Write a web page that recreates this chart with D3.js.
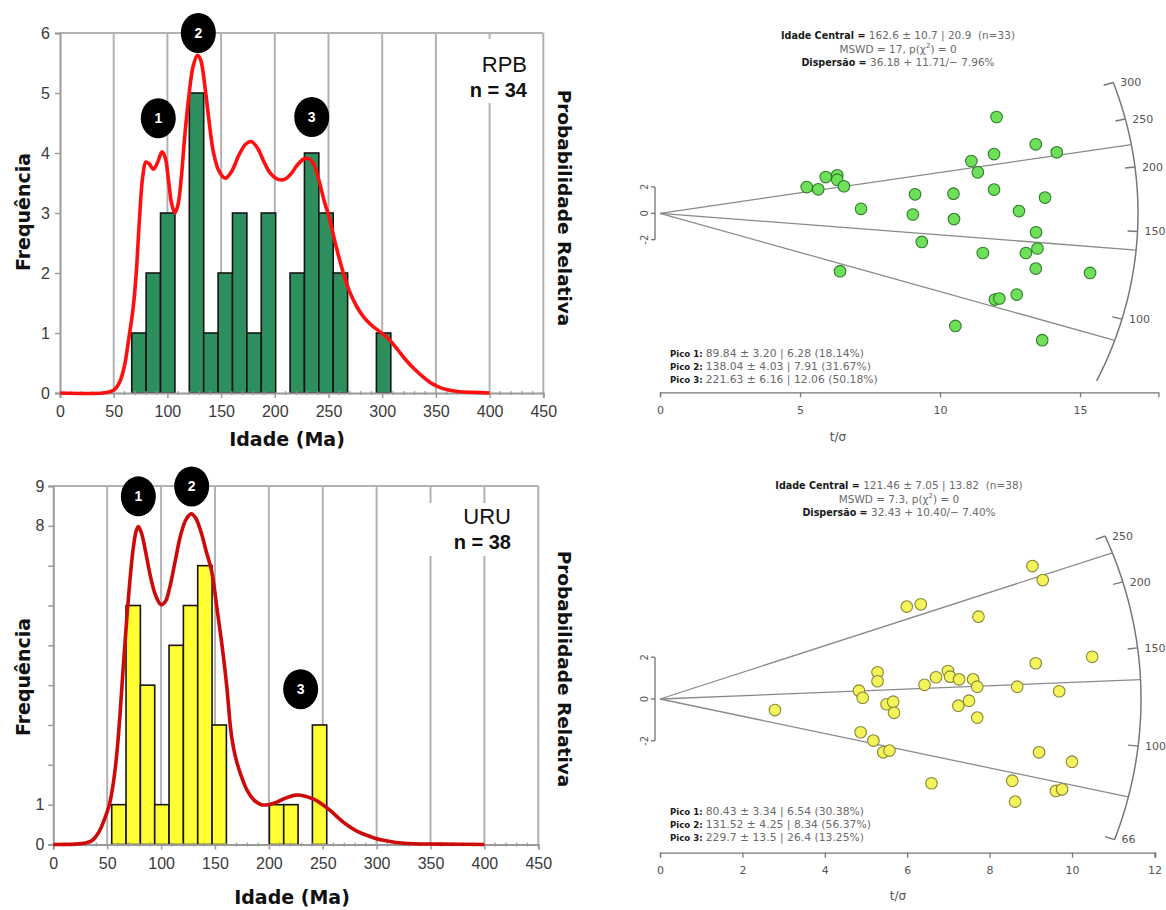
<!DOCTYPE html>
<html>
<head>
<meta charset="utf-8">
<script src="https://cdn.jsdelivr.net/npm/d3@7"></script>
<style>
  body { margin: 0; background: #fff; }
  text { white-space: pre; }
</style>
</head>
<body>
<svg id="fig" width="1166" height="910"></svg>
<script>
// ---------- histogram + probability density data ----------
const ageTicks = [0, 50, 100, 150, 200, 250, 300, 350, 400, 450];

// RPB sample: histogram bins (Ma) and counts
const rpbBinStart = 66.8;
const rpbBinWidth = 13.4;
const rpbCounts = [1, 2, 3, 0, 5, 1, 2, 3, 1, 3, 0, 2, 4, 3, 2, 0, 0, 1];
const rpbFreqTicks = [0, 1, 2, 3, 4, 5, 6];
const rpbFreqLabels = [0, 1, 2, 3, 4, 5, 6];
// relative probability curve, [age, value in frequency units]
const rpbCurve = [[0,0],[40,0],[48,0.03],[52,0.08],[56,0.2],[60,0.45],[64,0.9],[68,1.4],[71,2.0],[74,2.9],[77,3.6],[80,3.85],[83,3.82],[87,3.73],[91,3.85],[95,4.02],[98,3.92],[101,3.55],[104,3.15],[107,3.0],[110,3.15],[113,3.6],[116,4.25],[120,4.95],[124,5.45],[128,5.63],[131,5.55],[135,5.1],[139,4.5],[143,4.0],[148,3.7],[154,3.58],[160,3.7],[167,3.98],[173,4.15],[178,4.19],[184,4.08],[190,3.85],[196,3.66],[203,3.56],[209,3.56],[215,3.65],[221,3.8],[227,3.9],[231,3.91],[236,3.82],[241,3.55],[246,3.2],[251,2.9],[257,2.45],[263,2.05],[269,1.72],[276,1.45],[283,1.26],[290,1.13],[298,1.02],[306,0.9],[314,0.73],[322,0.55],[330,0.4],[338,0.27],[346,0.16],[354,0.09],[362,0.05],[372,0.02],[385,0.01],[400,0]];
// peak markers: [label, age, height]
const rpbPeaks = [["1", 91.5, 4.58], ["2", 128.8, 6.0], ["3", 234.4, 4.6]];

// URU sample
const uruBinStart = 54.2;
const uruBinWidth = 13.3;
const uruCounts = [1, 6, 4, 1, 5, 6, 7, 3, 0, 0, 0, 1, 1, 0, 3];
const uruFreqTicks = [0, 1, 2, 3, 4, 5, 6, 7, 8, 9];
const uruFreqLabels = [0, 1, 8, 9];
const uruCurve = [[0,0],[20,0.01],[30,0.04],[36,0.1],[42,0.3],[47,0.6],[52,1.0],[56,1.6],[59,2.3],[62,3.3],[65,4.5],[68,5.6],[71,6.6],[74,7.4],[77,7.88],[79,7.98],[82,7.8],[86,7.3],[90,6.75],[95,6.25],[100,6.02],[104,6.1],[108,6.45],[113,7.1],[118,7.75],[123,8.15],[128,8.3],[132,8.2],[137,7.85],[142,7.35],[147,6.85],[152,5.9],[157,4.9],[161,3.96],[165,2.8],[169,2.2],[174,1.75],[180,1.35],[186,1.12],[193,1.0],[200,1.0],[208,1.07],[216,1.17],[225,1.24],[233,1.22],[242,1.13],[250,1.0],[258,0.83],[266,0.63],[272,0.5],[280,0.36],[287,0.27],[294,0.2],[305,0.11],[318,0.05],[335,0.02],[360,0.01],[400,0]];
const uruPeaks = [["1", 78.9, 8.74], ["2", 128.4, 8.99], ["3", 229.5, 3.9]];

// ---------- radial plot data: [t/sigma, standardised estimate] ----------
const rpbRadial = [[12.02,7.30],[13.42,5.23],[14.17,4.62],[11.93,4.49],[11.12,3.96],[11.35,3.11],[6.33,2.88],[5.92,2.75],[6.33,2.55],[5.24,1.99],[5.65,1.82],[6.57,2.05],[9.11,1.44],[10.48,1.49],[11.93,1.80],[13.75,1.19],[7.18,0.34],[9.03,-0.09],[10.50,-0.44],[12.82,0.17],[13.43,-1.44],[9.35,-2.17],[11.53,-3.01],[13.07,-3.01],[13.48,-2.67],[6.43,-4.39],[13.42,-4.19],[15.36,-4.52],[11.96,-6.54],[12.12,-6.46],[12.74,-6.16],[10.55,-8.54],[13.65,-9.62]];
const rpbCentral = 162.6;
const rpbPeakAges = [89.84, 138.04, 221.63];
const rpbArcTicks = [100, 150, 200, 250, 300];
const rpbTTicks = [0, 5, 10, 15];
const rpbHeader = [["Idade Central = ", "162.6 ± 10.7 | 20.9  (n=33)"], ["", "MSWD = 17, p(χ"], ["Dispersão = ", "36.18 + 11.71/− 7.96%"]];
const rpbPicos = [["Pico 1: ", "89.84 ± 3.20 | 6.28 (18.14%)"], ["Pico 2: ", "138.04 ± 4.03 | 7.91 (31.67%)"], ["Pico 3: ", "221.63 ± 6.16 | 12.06 (50.18%)"]];

const uruRadial = [[9.04,6.36],[9.29,5.69],[5.99,4.42],[6.33,4.53],[7.73,3.94],[10.49,2.02],[9.12,1.71],[5.28,1.28],[5.28,0.85],[6.99,1.34],[6.70,1.04],[7.04,1.07],[7.26,0.94],[7.60,0.94],[6.42,0.68],[7.70,0.59],[8.67,0.59],[9.69,0.37],[4.83,0.40],[4.92,0.06],[2.79,-0.53],[5.50,-0.25],[5.66,-0.13],[5.68,-0.66],[7.24,-0.32],[7.50,-0.08],[7.70,-0.89],[4.87,-1.59],[5.18,-1.99],[5.42,-2.55],[5.57,-2.47],[9.20,-2.55],[10.00,-3.00],[6.59,-4.03],[8.55,-3.91],[8.62,-4.91],[9.61,-4.40],[9.76,-4.32]];
const uruCentral = 121.46;
const uruPeakAges = [80.43, 131.52, 229.7];
const uruArcTicks = [66, 100, 150, 200, 250];
const uruTTicks = [0, 2, 4, 6, 8, 10, 12];
const uruHeader = [["Idade Central = ", "121.46 ± 7.05 | 13.82  (n=38)"], ["", "MSWD = 7.3, p(χ"], ["Dispersão = ", "32.43 + 10.40/− 7.40%"]];
const uruPicos = [["Pico 1: ", "80.43 ± 3.34 | 6.54 (30.38%)"], ["Pico 2: ", "131.52 ± 4.25 | 8.34 (56.37%)"], ["Pico 3: ", "229.7 ± 13.5 | 26.4 (13.25%)"]];

const svg = d3.select("#fig");
const GRID = "#b2b2b2";
const TITLE_FONT = "DejaVu Sans, Verdana, sans-serif";
const TICK_FONT = "Liberation Sans, Arial, sans-serif";

// ---------- histogram panel ----------
function histogram(o) {
  const g = svg.append("g");
  const x = d3.scaleLinear().domain([0, 450]).range([o.x0, o.x1]);
  const y = d3.scaleLinear().domain([0, o.yMax]).range([o.y0, o.y1]);

  // vertical gridlines
  g.append("g").selectAll("line").data(ageTicks.slice(1, -1)).join("line")
    .attr("x1", d => x(d)).attr("x2", d => x(d))
    .attr("y1", y(0)).attr("y2", y(o.yMax))
    .attr("stroke", GRID).attr("stroke-width", 2);
  // frame: top and right
  g.append("line").attr("x1", x(0)).attr("x2", x(450)).attr("y1", y(o.yMax)).attr("y2", y(o.yMax))
    .attr("stroke", GRID).attr("stroke-width", 2);
  g.append("line").attr("x1", x(450)).attr("x2", x(450)).attr("y1", y(0)).attr("y2", y(o.yMax))
    .attr("stroke", GRID).attr("stroke-width", 2);

  // sample label box
  g.append("rect").attr("x", o.box[0]).attr("y", o.box[1]).attr("width", o.box[2]).attr("height", o.box[3])
    .attr("fill", "#fff");
  g.append("text").attr("x", o.labelX).attr("y", o.labelY).attr("text-anchor", "end")
    .attr("font-family", TICK_FONT).attr("font-size", 22).attr("fill", "#111").text(o.name);
  g.append("text").attr("x", o.labelX).attr("y", o.labelY + 25).attr("text-anchor", "end")
    .attr("font-family", TICK_FONT).attr("font-size", 20).attr("font-weight", "bold")
    .attr("fill", "#111").text(o.nText);

  // bars
  const bins = o.counts.map((c, i) => ({ x0: o.binStart + i * o.binWidth, x1: o.binStart + (i + 1) * o.binWidth, c }))
    .filter(b => b.c > 0);
  g.append("g").selectAll("rect").data(bins).join("rect")
    .attr("x", d => x(d.x0)).attr("width", d => x(d.x1) - x(d.x0))
    .attr("y", d => y(d.c)).attr("height", d => y(0) - y(d.c))
    .attr("fill", o.barFill).attr("stroke", "#151515").attr("stroke-width", 1.6);

  // axes
  const xa = g.append("g").attr("transform", `translate(0,${y(0)})`)
    .call(d3.axisBottom(x).tickValues(ageTicks).tickSize(5).tickPadding(8).tickFormat(d3.format("d")));
  xa.select(".domain").attr("stroke", "#9a9a9a").attr("stroke-width", 2);
  xa.selectAll(".tick line").attr("stroke", "#9a9a9a").attr("stroke-width", 1.5);
  xa.selectAll(".tick text").attr("font-family", TICK_FONT).attr("font-size", 16).attr("fill", "#3a3a3a");
  // minor ticks every 10 Ma
  g.append("g").selectAll("line").data(d3.range(10, 450, 10).filter(v => v % 50 !== 0)).join("line")
    .attr("x1", d => x(d)).attr("x2", d => x(d)).attr("y1", y(0) - 2).attr("y2", y(0) + 2)
    .attr("stroke", "#9a9a9a").attr("stroke-width", 1.2);

  const ya = g.append("g").attr("transform", `translate(${x(0)},0)`)
    .call(d3.axisLeft(y).tickValues(o.yTicks).tickSize(5).tickPadding(o.yPad)
      .tickFormat(d => o.yLabels.includes(d) ? d : ""));
  ya.select(".domain").attr("stroke", "#9a9a9a").attr("stroke-width", 2);
  ya.selectAll(".tick line").attr("stroke", "#9a9a9a").attr("stroke-width", 1.5);
  ya.selectAll(".tick text").attr("font-family", TICK_FONT).attr("font-size", 16).attr("fill", "#3a3a3a");

  // probability curve
  const line = d3.line().x(d => x(d[0])).y(d => y(d[1])).curve(d3.curveCatmullRom.alpha(0.5));
  g.append("path").datum(o.curve).attr("d", line).attr("fill", "none")
    .attr("stroke", o.curveColor).attr("stroke-width", 3.6).attr("stroke-linejoin", "round");

  // peak markers
  const pk = g.append("g").selectAll("g").data(o.peaks).join("g")
    .attr("transform", d => `translate(${x(d[1])},${y(d[2])})`);
  pk.append("ellipse").attr("rx", 17.5).attr("ry", 20).attr("fill", "#000");
  pk.append("text").attr("text-anchor", "middle").attr("dy", "0.36em")
    .attr("font-family", "Liberation Sans, Arial, sans-serif").attr("font-weight", "bold")
    .attr("font-size", 14).attr("fill", "#fff").text(d => d[0]);

  // axis titles
  g.append("text").attr("transform", `translate(${o.yTitle[0]},${o.yTitle[1]}) rotate(-90)`)
    .attr("text-anchor", "middle").attr("font-family", TITLE_FONT).attr("font-weight", "bold")
    .attr("font-size", 19).attr("fill", "#111").text("Frequência");
  g.append("text").attr("transform", `translate(${o.pTitle[0]},${o.pTitle[1]}) rotate(90)`)
    .attr("text-anchor", "middle").attr("font-family", TITLE_FONT).attr("font-weight", "bold")
    .attr("font-size", 18.5).attr("fill", "#111").text("Probabilidade Relativa");
  g.append("text").attr("x", o.xTitle[0]).attr("y", o.xTitle[1])
    .attr("text-anchor", "middle").attr("font-family", TITLE_FONT).attr("font-weight", "bold")
    .attr("font-size", 19).attr("fill", "#111").text("Idade (Ma)");
}

histogram({
  x0: 60, x1: 543.3, y0: 393, y1: 33, yMax: 6,
  binStart: rpbBinStart, binWidth: rpbBinWidth, counts: rpbCounts,
  yTicks: rpbFreqTicks, yLabels: rpbFreqLabels, yPad: 5,
  curve: rpbCurve, curveColor: "#ff1010", barFill: "#2e8f5e", peaks: rpbPeaks,
  name: "RPB", nText: "n = 34", labelX: 527, labelY: 72, box: [468, 39, 66, 64],
  yTitle: [30, 212], pTitle: [558, 208], xTitle: [287, 446]
});
histogram({
  x0: 53.3, x1: 538.3, y0: 844.5, y1: 486, yMax: 9,
  binStart: uruBinStart, binWidth: uruBinWidth, counts: uruCounts,
  yTicks: uruFreqTicks, yLabels: uruFreqLabels, yPad: 4,
  curve: uruCurve, curveColor: "#cc0a0a", barFill: "#ffff33", peaks: uruPeaks,
  name: "URU", nText: "n = 38", labelX: 511, labelY: 524, box: [420, 503, 100, 53],
  yTitle: [30, 677], pTitle: [558, 669], xTitle: [292, 904]
});

// ---------- radial plot panel ----------
function radial(o) {
  const g = svg.append("g");
  const x = d3.scaleLinear().domain([0, o.tMax]).range([o.ox, o.ox + o.tMax * o.kx]);
  const y = d3.scaleLinear().domain([-2, 2]).range([o.oy + 2 * o.ky, o.oy - 2 * o.ky]);
  // direction of an age ray from the origin, and its crossing with the age arc
  const theta = age => Math.atan(o.ky * Math.log(age / o.central) / o.kx);
  const rAt = th => o.a * o.b / Math.sqrt((o.b * Math.cos(th)) ** 2 + (o.a * Math.sin(th)) ** 2);
  const onArc = (age, dr = 0) => {
    const th = theta(age), r = rAt(th) + dr;
    return [x(0) + r * Math.cos(th), y(0) - r * Math.sin(th)];
  };

  // header
  const hd = g.append("text").attr("text-anchor", "middle").attr("x", o.hx).attr("y", o.hy);
  o.header.forEach((ln, i) => {
    const t = g.append("text").attr("text-anchor", "middle").attr("x", o.hx).attr("y", o.hy + i * 13.5);
    if (ln[0]) t.append("tspan").attr("font-family", TITLE_FONT).attr("font-weight", "bold")
      .attr("font-size", 9.6).attr("fill", "#1a1a1a").text(ln[0]);
    t.append("tspan").attr("font-family", TITLE_FONT).attr("font-size", 10.5).attr("fill", "#6a6a6a").text(ln[1]);
    if (i === 1) {
      t.append("tspan").attr("font-family", TITLE_FONT).attr("font-size", 7).attr("dy", -5).attr("fill", "#6a6a6a").text("2");
      t.append("tspan").attr("font-family", TITLE_FONT).attr("font-size", 10.5).attr("dy", 5).attr("fill", "#6a6a6a").text(") = 0");
    }
  });
  hd.remove();

  // age arc
  const arcAges = d3.range(0, 1.0001, 0.01).map(f => o.arcMin * Math.pow(o.arcMax / o.arcMin, f));
  g.append("path").datum(arcAges.map(a => onArc(a))).attr("d", d3.line())
    .attr("fill", "none").attr("stroke", "#777").attr("stroke-width", 1.5);
  g.append("g").selectAll("line").data(o.arcTicks).join("line")
    .attr("x1", d => onArc(d)[0]).attr("y1", d => onArc(d)[1])
    .attr("x2", d => onArc(d, -10)[0]).attr("y2", d => onArc(d, -10)[1])
    .attr("stroke", "#777").attr("stroke-width", 1.4);
  g.append("g").selectAll("text").data(o.arcTicks).join("text")
    .attr("x", d => onArc(d)[0] + 7).attr("y", d => onArc(d)[1]).attr("dy", "0.35em")
    .attr("font-family", TITLE_FONT).attr("font-size", 11).attr("fill", "#555").text(d => d);

  // peak rays
  g.append("g").selectAll("line").data(o.peakAges).join("line")
    .attr("x1", x(0)).attr("y1", y(0))
    .attr("x2", d => onArc(d)[0]).attr("y2", d => onArc(d)[1])
    .attr("stroke", "#8a8a8a").attr("stroke-width", 1.3);

  // points
  g.append("g").selectAll("circle").data(o.points).join("circle")
    .attr("cx", d => x(d[0])).attr("cy", d => y(d[1])).attr("r", 5.8)
    .attr("fill", o.fill).attr("stroke", o.stroke).attr("stroke-width", 1.1);

  // standardised estimate bar
  const sb = g.append("g");
  sb.append("line").attr("x1", o.barX).attr("x2", o.barX).attr("y1", y(2)).attr("y2", y(-2))
    .attr("stroke", "#666").attr("stroke-width", 1.2);
  sb.selectAll("line.t").data([-2, 0, 2]).join("line").attr("class", "t")
    .attr("x1", o.barX - 4).attr("x2", o.barX).attr("y1", d => y(d)).attr("y2", d => y(d))
    .attr("stroke", "#666").attr("stroke-width", 1.2);
  sb.selectAll("text").data([-2, 0, 2]).join("text")
    .attr("transform", d => `translate(${o.barX - 7},${y(d)}) rotate(-90)`)
    .attr("text-anchor", "middle").attr("font-family", TITLE_FONT).attr("font-size", 10).attr("fill", "#555")
    .text(d => d);

  // t/sigma axis
  const ax = g.append("g").attr("transform", `translate(0,${o.axisY})`)
    .call(d3.axisBottom(x).tickValues(o.tTicks).tickSize(5).tickPadding(9).tickFormat(d3.format("d")));
  ax.select(".domain").attr("stroke", "#777").attr("stroke-width", 1.3);
  ax.selectAll(".tick line").attr("stroke", "#777").attr("stroke-width", 1.3);
  ax.selectAll(".tick text").attr("font-family", TITLE_FONT).attr("font-size", 11).attr("fill", "#555");
  g.append("text").attr("x", o.tLabel[0]).attr("y", o.tLabel[1]).attr("text-anchor", "middle")
    .attr("font-family", TITLE_FONT).attr("font-size", 12).attr("fill", "#555").text("t/σ");

  // peak summary
  o.picos.forEach((p, i) => {
    const t = g.append("text").attr("x", o.px).attr("y", o.py + i * 13.2);
    t.append("tspan").attr("font-family", TITLE_FONT).attr("font-weight", "bold").attr("font-size", 8.6)
      .attr("fill", "#1a1a1a").text(p[0]);
    t.append("tspan").attr("font-family", TITLE_FONT).attr("font-size", 10.8).attr("fill", "#6a6a6a").text(p[1]);
  });
}

radial({
  ox: 660, oy: 213.3, kx: 28, ky: 13.19, tMax: 17.8, a: 478, b: 412,
  central: rpbCentral, peakAges: rpbPeakAges, arcTicks: rpbArcTicks, arcMin: 72, arcMax: 300,
  points: rpbRadial, fill: "#6fe05a", stroke: "#2f7d2a", tTicks: rpbTTicks,
  header: rpbHeader, hx: 898, hy: 39, picos: rpbPicos, px: 670, py: 357,
  axisY: 392.3, tLabel: [838, 441], barX: 655
});
radial({
  ox: 660, oy: 699, kx: 41.2, ky: 20.9, tMax: 12.02, a: 481, b: 430,
  central: uruCentral, peakAges: uruPeakAges, arcTicks: uruArcTicks, arcMin: 66, arcMax: 250,
  points: uruRadial, fill: "#f4f45a", stroke: "#86863a", tTicks: uruTTicks,
  header: uruHeader, hx: 899, hy: 489, picos: uruPicos, px: 670, py: 815,
  axisY: 852.7, tLabel: [898, 900], barX: 655
});
</script>
</body>
</html>
